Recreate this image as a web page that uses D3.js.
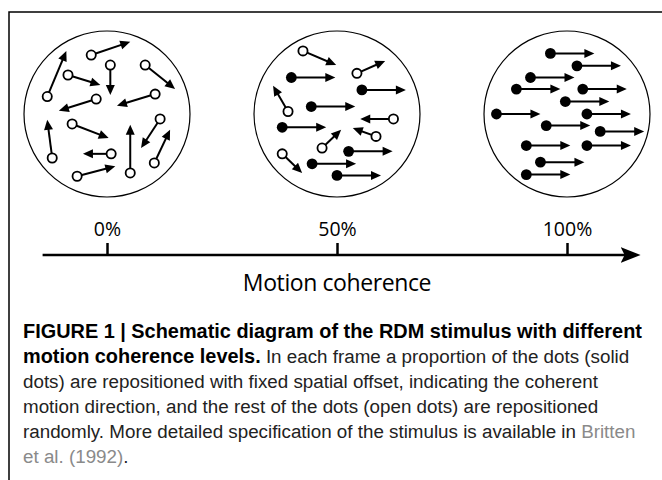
<!DOCTYPE html>
<html>
<head>
<meta charset="utf-8">
<script src="https://cdn.jsdelivr.net/npm/d3@7"></script>
<style>
  body { margin: 0; background: #fff; }
  svg { display: block; }
</style>
</head>
<body>
<div id="chart"></div>
<script>
// coherence levels shown on the axis (percent)
const coherenceLevels = [0, 50, 100];
const axisExtent = [-14, 116];
const axisTitle = "Motion coherence";

// dots in disc units (disc radius = 100)
// signal dots all move by the same step
const coherentStep = [53, 0];
const signalDots0 = [];
const signalDots50 = [[-55, -44], [30, -29], [-31, -9], [-66, 16], [14, 45], [-30, 60], [0, 74]];
const signalDots100 = [[-20, -73], [12, -58], [-44, -44], [-61, -30], [19, -30], [-2, -15], [-85, 0],
  [24, 0], [-25, 14], [40, 21], [-49, 38], [24, 38], [-32, 58], [-49, 73]];

// noise dots: [x, y, dx, dy]
const noiseDots0 = [[-19, -71, 47, -16], [4, -59, 0, 36], [46, -59, 36, 29], [-47, -47, 39, 12],
  [-72, -21, 23, -55], [-13, -18, -45, 14], [58, -24, -46, 14], [64, 6, -23, 35],
  [-42, 12, 44, 17], [-66, 53, -6, -46], [28, 71, 0, -58], [57, 59, 19, -40],
  [5, 48, -34, 0], [-36, 75, 46, -12]];
const noiseDots50 = [[-41, -76, 40, 17], [24, -49, 34, -15], [-59, -3, -18, -31], [68, 6, -40, 0],
  [47, 27, -28, -10], [-18, 41, 23, -22], [-66, 48, 24, 23]];
const noiseDots100 = [];

const captionLines = [
  [{t: "FIGURE 1 | Schematic diagram of the RDM stimulus with different", s: "b"}],
  [{t: "motion coherence levels.", s: "b"}, {t: " In each frame a proportion of the dots (solid", s: "r"}],
  [{t: "dots) are repositioned with fixed spatial offset, indicating the coherent", s: "r"}],
  [{t: "motion direction, and the rest of the dots (open dots) are repositioned", s: "r"}],
  [{t: "randomly. More detailed specification of the stimulus is available in ", s: "r"}, {t: "Britten", s: "l"}],
  [{t: "et al. (1992)", s: "l"}, {t: ".", s: "r"}]
];

const panels = [
  {level: coherenceLevels[0], signal: signalDots0, noise: noiseDots0},
  {level: coherenceLevels[1], signal: signalDots50, noise: noiseDots50},
  {level: coherenceLevels[2], signal: signalDots100, noise: noiseDots100}
];

const W = 662, H = 480;
const discR = 83, discY = 114, axisY = 255;

const svg = d3.select("#chart").append("svg")
  .attr("width", W)
  .attr("height", H);

// arrow heads
const defs = svg.append("defs");
defs.append("marker")
  .attr("id", "head")
  .attr("viewBox", "0 -5 10 10")
  .attr("markerUnits", "userSpaceOnUse")
  .attr("markerWidth", 11)
  .attr("markerHeight", 10)
  .attr("refX", 6)
  .attr("refY", 0)
  .attr("orient", "auto")
  .append("path")
    .attr("d", "M0,-4.5L10,0L0,4.5Z")
    .attr("fill", "#000");
defs.append("marker")
  .attr("id", "bighead")
  .attr("viewBox", "0 -8 20 16")
  .attr("markerUnits", "userSpaceOnUse")
  .attr("markerWidth", 20)
  .attr("markerHeight", 16)
  .attr("refX", 14)
  .attr("refY", 0)
  .attr("orient", "auto")
  .append("path")
    .attr("d", "M0,-8L20,0L0,8L4,0Z")
    .attr("fill", "#000");

// frame (top + left)
svg.append("path")
  .attr("d", `M${W},12H9V${H}`)
  .attr("fill", "none")
  .attr("stroke", "#000")
  .attr("stroke-width", 1.5);

// coherence axis
const x = d3.scaleLinear()
  .domain([0, 100])
  .range([107, 567]);

const axis = svg.append("g")
  .attr("transform", `translate(0,${axisY})`)
  .call(d3.axisTop(x)
    .tickValues(coherenceLevels)
    .tickSize(12)
    .tickPadding(7)
    .tickFormat(d => d + "%"));
axis.select(".domain").remove();
axis.selectAll(".tick line")
  .attr("stroke", "#000")
  .attr("stroke-width", 2.5);
axis.selectAll(".tick text")
  .attr("fill", "#000")
  .style("font-family", "'Open Sans', sans-serif")
  .style("font-size", "19.5px");

svg.append("line")
  .attr("x1", x(axisExtent[0]))
  .attr("x2", x(axisExtent[1]) - 6)
  .attr("y1", axisY)
  .attr("y2", axisY)
  .attr("stroke", "#000")
  .attr("stroke-width", 2.5)
  .attr("marker-end", "url(#bighead)");

svg.append("text")
  .attr("x", x(50))
  .attr("y", 291)
  .attr("text-anchor", "middle")
  .style("font-family", "'Open Sans', sans-serif")
  .style("font-size", "23px")
  .style("letter-spacing", "-0.4px")
  .text(axisTitle);

// one disc per coherence level
panels.forEach(p => {
  const cx = x(p.level);
  const sx = d3.scaleLinear().domain([-100, 100]).range([cx - discR, cx + discR]);
  const sy = d3.scaleLinear().domain([-100, 100]).range([discY - discR, discY + discR]);

  const g = svg.append("g");
  g.append("circle")
    .attr("cx", sx(0))
    .attr("cy", sy(0))
    .attr("r", sx(100) - sx(0))
    .attr("fill", "none")
    .attr("stroke", "#000")
    .attr("stroke-width", 1.2);

  const moves = p.noise.map(d => ({x: d[0], y: d[1], dx: d[2], dy: d[3], open: true}))
    .concat(p.signal.map(d => ({x: d[0], y: d[1], dx: coherentStep[0], dy: coherentStep[1], open: false})));

  // shorten line a little so the head covers the tip
  const endPt = d => {
    const x1 = sx(d.x), y1 = sy(d.y), x2 = sx(d.x + d.dx), y2 = sy(d.y + d.dy);
    const len = Math.hypot(x2 - x1, y2 - y1);
    return [x2 - (x2 - x1) / len * 4, y2 - (y2 - y1) / len * 4];
  };

  g.selectAll("line.move")
    .data(moves)
    .join("line")
      .attr("class", "move")
      .attr("x1", d => sx(d.x))
      .attr("y1", d => sy(d.y))
      .attr("x2", d => endPt(d)[0])
      .attr("y2", d => endPt(d)[1])
      .attr("stroke", "#000")
      .attr("stroke-width", 2)
      .attr("marker-end", "url(#head)");

  g.selectAll("circle.dot")
    .data(moves)
    .join("circle")
      .attr("class", "dot")
      .attr("cx", d => sx(d.x))
      .attr("cy", d => sy(d.y))
      .attr("r", d => d.open ? 4.6 : 5.4)
      .attr("fill", d => d.open ? "#fff" : "#000")
      .attr("stroke", "#000")
      .attr("stroke-width", d => d.open ? 1.8 : 0);
});

// caption
const cap = svg.append("text")
  .style("font-family", "'Liberation Sans', Arial, sans-serif");

captionLines.forEach((line, i) => {
  line.forEach((seg, j) => {
    const sp = cap.append("tspan").text(seg.t);
    if (j === 0) sp.attr("x", 23).attr("y", 338 + i * 25);
    sp.attr("font-weight", seg.s === "b" ? "bold" : null)
      .attr("font-size", seg.s === "b" ? "19.9px" : "18.8px")
      .attr("fill", seg.s === "l" ? "#8a8a8a" : (seg.s === "b" ? "#000" : "#222"));
  });
});
</script>
</body>
</html>
